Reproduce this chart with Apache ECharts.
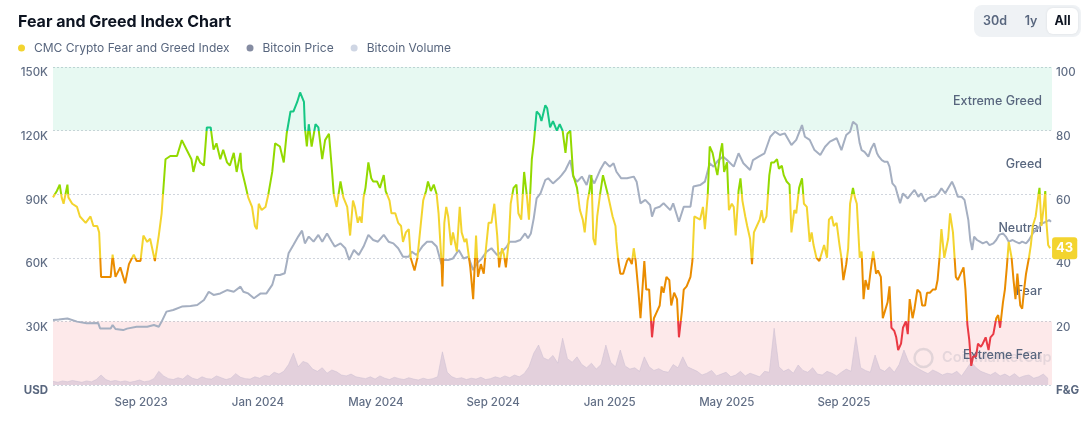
<!DOCTYPE html>
<html><head><meta charset="utf-8">
<script src="https://cdn.jsdelivr.net/npm/echarts@6/dist/echarts.min.js"></script>
<style>html,body{margin:0;padding:0;background:#fff}#c{width:1092px;height:426px}</style>
</head><body><div id="c"></div>
<script>
// ---- axis domain: one category per day starting at startDate ----
const startDate = '2023-06-29';
const dayCount = 1040;
const monthNames = ['Jan','Feb','Mar','Apr','May','Jun','Jul','Aug','Sep','Oct','Nov','Dec'];
const xTickDates = ['2023-09-01','2024-01-01','2024-05-01','2024-09-01','2025-01-01','2025-05-01','2025-09-01'];

// ---- tick labels ----
const usdTickLabels = ['USD','30K','60K','90K','120K','150K'];
const fgTickLabels = ['F&G','20','40','60','80','100'];
const zoneBounds = [0,20,40,60,80,100];
const zoneNames = ['Extreme Fear','Fear','Neutral','Greed','Extreme Greed'];
const zoneColors = ['#ea3943','#ea8c00','#f3d42f','#93d900','#16c784'];

// ---- CMC Fear & Greed index: [day since startDate, value] ----
const fearGreed = [[0,59],[4,61],[7,63],[9,59],[11,57],[15,63],[16,59],[20,57],[25,56],[28,53],[34,51],[39,53],[42,50],[46,50],[48,48],[50,34],[56,34],[60,34],[62,41],[65,34],[70,37],[75,32],[79,38],[84,41],[87,39],[91,39],[94,47],[98,45],[101,46],[106,39],[110,47],[113,54],[117,71],[122,72],[129,72],[134,77],[139,74],[144,71],[146,67],[150,72],[153,70],[157,69],[160,81],[164,81],[167,74],[170,76],[174,71],[177,74],[181,70],[184,69],[188,73],[191,67],[195,73],[196,68],[200,63],[203,59],[207,56],[210,50],[212,49],[214,57],[217,55],[221,56],[224,60],[228,67],[231,76],[236,75],[240,70],[243,79],[247,86],[250,86],[254,89],[257,92],[261,89],[262,81],[264,75],[266,82],[269,75],[273,82],[276,81],[280,71],[283,77],[287,79],[290,68],[292,60],[295,56],
[299,64],[302,59],[306,56],[309,47],[312,58],[314,56],[317,51],[319,53],[321,51],[323,59],[325,62],[328,70],[331,65],[333,64],[337,64],[340,62],[344,66],[346,61],[350,58],[352,54],[356,54],[359,51],[362,50],[364,45],[367,48],[370,49],[372,40],[376,36],[379,40],[382,49],[385,58],[388,61],[390,64],[393,61],[396,63],[399,60],[401,54],[404,39],[405,31],[407,51],[409,56],[411,53],[414,44],[416,48],[420,42],[423,56],[425,48],[428,45],[430,46],[434,37],[437,27],[440,47],[442,34],[445,38],[448,35],[450,42],[453,51],[456,51],[459,57],[462,47],[464,37],[467,43],[469,41],[471,37],[474,45],[476,57],[479,62],[482,63],[484,54],[487,52],[490,67],[493,59],[495,52],[498,71],[500,76],[503,86],[506,85],[508,83],[512,88],[514,87],[517,81],[520,83],[524,80],[527,82],[530,80],[533,73],[535,79],[538,80],[541,66],[545,62],[548,55],[551,52],[553,48],[556,58],[558,61],
[560,66],[562,46],[564,44],[566,53],[569,60],[572,66],[574,66],[577,60],[579,60],[582,53],[585,50],[586,45],[588,39],[590,35],[593,35],[597,39],[599,40],[602,38],[604,43],[606,39],[609,29],[611,21],[613,21],[615,39],[617,30],[620,30],[623,15],[625,21],[628,23],[631,25],[633,31],[635,29],[638,34],[641,33],[643,25],[646,29],[649,27],[651,15],[654,23],[656,30],[659,31],[663,34],[665,39],[667,53],[669,53],[673,52],[676,56],[678,49],[681,60],[683,75],[686,73],[688,70],[691,66],[694,73],[696,76],[698,67],[701,70],[703,55],[706,57],[708,56],[710,47],[713,61],[715,65],[717,58],[720,53],[722,50],[725,46],[727,38],[729,48],[732,50],[735,52],[737,55],[739,51],[742,53],[745,66],[747,70],[750,70],[753,71],[755,68],[758,69],[760,66],[763,64],[766,63],[768,48],[771,55],[773,54],[776,62],[779,65],[781,57],[784,56],[787,45],[789,48],[791,44],[794,40],[797,39],[799,41],[802,44],[805,40],[807,52],[810,53],[812,50],[815,51],[818,44],[820,40],[822,33],[825,38],[827,43],
[829,57],[832,62],[834,59],[836,57],[839,40],[841,42],[843,27],[845,33],[848,30],[850,35],[853,42],[856,35],[858,36],[861,34],[863,21],[865,23],[868,26],[870,31],[872,18],[875,17],[877,15],[879,11],[882,13],[884,18],[887,20],[889,16],[891,27],[894,21],[896,24],[899,30],[902,29],[904,25],[907,25],[909,29],[912,29],[915,30],[918,30],[920,33],[922,40],[924,49],[927,40],[929,40],[931,46],[933,54],[936,48],[939,34],[941,33],[944,35],[947,37],[949,30],[951,19],[953,14],[955,6],[957,9],[960,9],[962,13],[965,12],[967,13],[970,15],[973,11],[975,15],[978,16],[981,21],[983,22],[985,18],[988,26],[990,30],[992,37],[994,45],[997,40],[999,33],[1001,27],[1003,35],[1006,25],[1008,24],[1010,30],[1012,35],[1015,40],[1017,44],[1019,50],[1022,53],[1025,60],[1026,62],[1028,50],[1030,55],[1032,61],[1033,52],[1035,44],[1037,43]];

// ---- Bitcoin price, thousand USD: [day since startDate, price] ----
const btcPrice = [[0,30.7],[6,30.9],[15,31.4],[25,29.9],[35,29.1],[47,29.2],[49,26.7],[60,26.7],[62,28.3],[65,26.4],[73,25.9],[77,26.6],[87,27.5],[98,27.5],[105,28.3],[110,27.5],[113,29.9],[118,34.6],[125,35.4],[134,37],[143,37.3],[150,37.7],[157,40.1],[162,44],[167,42.5],[174,43.2],[181,44.8],[188,44],[195,46.4],[198,44],[203,43.2],[209,40.9],[216,43.2],[222,43.2],[228,47.2],[231,51.9],[236,51.9],[241,52.7],[245,62.1],[250,66],[255,70],[259,72.8],[262,66.8],[266,70],[271,67.6],[276,70.8],[280,67.6],[285,71.5],[290,67.6],[293,65.3],[299,66.8],[304,64.5],[308,59],[313,63.7],[318,61.3],
[323,65.3],[328,70.8],[333,68.4],[338,67.6],[344,70.8],[349,67.6],[354,66.8],[359,64.5],[364,60.5],[370,60.5],[373,62.9],[378,61.3],[384,65.3],[389,67.6],[394,67.6],[399,65.3],[404,57],[406,59],[411,59],[416,59.7],[422,63.7],[427,59.7],[432,60.5],[437,54.2],[441,57.4],[446,59.7],[451,62.9],[456,64.5],[462,61.3],[467,62.9],[472,65.3],[475,67.6],[481,67.6],[486,68.4],[491,71.5],[494,69.2],[497,71.5],[500,78.6],[503,88],[507,90.4],[512,96.7],[515,97.5],[520,95.1],[526,97.5],[529,99],[533,101.4],[538,106.1],[541,98.3],[545,95.9],[550,98.3],[555,94.3],[558,99],
[563,95.1],[569,101.4],[574,105.3],[579,103],[583,104.6],[586,100.6],[591,97.5],[597,97.5],[604,98.3],[607,95.9],[611,85.7],[616,87.3],[621,84.9],[623,79.4],[626,83.3],[631,84.1],[635,85.7],[642,82.5],[645,85.7],[651,77],[656,84.1],[663,84.1],[666,93.6],[673,94.3],[678,95.9],[683,104.6],[687,103],[692,106.1],[697,107.7],[701,106.1],[708,103],[713,109.3],[718,104.6],[725,101.4],[728,106.1],[734,107.7],[740,109.3],[746,117.1],[751,119.5],[756,117.9],[761,118.7],[768,113.2],[773,115.6],[779,122.6],[782,117.1],[787,115.6],[792,110.8],[798,108.5],[803,112.4],[808,114.8],[815,116.4],[820,110.8],[825,117.9],[829,119.5],
[832,124.2],[836,122.6],[839,114],[841,110.8],[844,110],[848,107.7],[851,111.6],[854,114],[857,109.3],[859,107.7],[862,106.1],[865,105.3],[868,105.3],[870,103],[873,95.1],[876,93.6],[878,90.4],[881,85.7],[884,90.4],[886,91.2],[889,88],[893,90.4],[896,92],[900,88.8],[903,90.4],[907,86.5],[910,88],[914,88.8],[917,88.8],[921,90.4],[924,92.8],[928,90.4],[931,92.8],[935,95.9],[938,92.8],[941,88.8],[945,88.8],[948,87.3],[952,77.8],[954,68.4],[956,63.7],[958,70],[961,68.4],[964,67.6],[967,66.8],[971,67.6],[974,66],[978,66.8],[981,68.4],[984,70.8],[988,71.5],[991,70],[994,67.6],[998,68.4],[1001,67.6],[1005,66.8],[1008,67.6],[1012,66.8],[1015,68.4],[1019,71.5],[1022,73.1],[1026,74.7],[1029,76.3],[1033,77],[1036,77.8],[1038,77]];

// ---- Bitcoin volume, billion USD, one value every volStepDays from day 0 ----
const volStepDays = 5;
const btcVolume = [8,6,9,7,10,8,6,9,7,12,
22,12,8,10,7,9,6,8,11,7,9,14,30,
20,14,12,16,13,22,15,12,18,14,13,20,16,12,15,25,17,14,13,18,15,21,19,28,24,30,45,
70,40,52,48,35,30,38,26,33,29,22,20,24,18,
16,14,18,13,20,15,12,17,14,12,16,13,11,15,12,14,18,
73,28,18,14,16,12,15,13,17,12,14,18,15,20,16,22,18,25,40,
70,88,60,55,65,48,103,58,50,62,45,38,48,35,
45,88,50,40,77,42,35,38,30,62,40,32,36,30,28,45,38,62,40,
35,30,22,26,32,20,24,28,18,22,30,20,26,22,18,30,28,
125,40,30,35,26,44,32,28,38,24,22,30,26,20,28,35,
30,106,38,32,28,66,35,30,40,28,45,77,50,42,36,30,25,33,28,22,26,24,30,20,
35,51,38,30,26,22,28,20,24,18,25,16,20,22,15,18,24,14];

// ---- build axis categories and series tables ----
const categories = [];
const t0 = Date.parse(startDate + 'T00:00:00Z');
for (let i = 0; i < dayCount; i++) categories.push(new Date(t0 + i * 86400000).toISOString().slice(0, 10));
const volumeData = btcVolume.map((v, i) => [i * volStepDays, v]);

const FONT = 'Inter, "Noto Sans", sans-serif';
const GRAY = '#616e85';

const fillAreas = [
  [{ yAxis: zoneBounds[4], itemStyle: { color: 'rgba(22,199,132,0.10)' } }, { yAxis: zoneBounds[5] }],
  [{ yAxis: zoneBounds[0], itemStyle: { color: 'rgba(234,57,67,0.11)' } }, { yAxis: zoneBounds[1] }]
];
const labelAreas = zoneNames.map((n, i) => [{ name: n, yAxis: zoneBounds[i] }, { yAxis: zoneBounds[i + 1] }]);

const chart = echarts.init(document.getElementById('c'), null, { renderer: 'canvas' });
chart.setOption({
  animation: false,
  textStyle: { fontFamily: FONT },
  title: {
    text: 'Fear and Greed Index Chart', left: 13, top: 9,
    textStyle: { fontFamily: FONT, fontSize: 16, fontWeight: 700, color: '#0d1421' }
  },
  legend: {
    left: 18, top: 42, padding: 0, icon: 'circle', itemWidth: 7, itemHeight: 7, itemGap: 17,
    selectedMode: false,
    textStyle: { fontFamily: FONT, fontSize: 12, color: '#58667e', padding: [0, 0, 0, 4] },
    data: [
      { name: 'CMC Crypto Fear and Greed Index', itemStyle: { color: '#f3d42f' } },
      { name: 'Bitcoin Price', itemStyle: { color: '#858ca2' } },
      { name: 'Bitcoin Volume', itemStyle: { color: '#cfd6e4' } }
    ]
  },
  grid: { left: 53, right: 40, top: 67, bottom: 41, containLabel: false, outerBoundsMode: 'none' },
  xAxis: {
    type: 'category', data: categories, boundaryGap: false,
    axisLine: { show: false }, axisTick: { show: false }, splitLine: { show: false },
    axisLabel: {
      align: 'left', margin: 12, color: GRAY, fontSize: 11.5, fontWeight: 500, fontFamily: FONT,
      interval: (idx, val) => xTickDates.includes(val),
      formatter: (val) => { const d = new Date(val + 'T00:00:00Z'); return monthNames[d.getUTCMonth()] + ' ' + d.getUTCFullYear(); }
    }
  },
  yAxis: [
    {
      type: 'value', min: 0, max: 150, interval: 30, position: 'left',
      axisLine: { show: false }, axisTick: { show: false },
      splitLine: { lineStyle: { type: [2, 2], color: '#d0d5dd', width: 1 } },
      axisLabel: {
        margin: 5, verticalAlign: 'top', color: GRAY, fontSize: 11.5, fontWeight: 500, fontFamily: FONT,
        formatter: (v) => { const i = Math.round(v / 30); return i === 0 ? '{b|' + usdTickLabels[0] + '}' : usdTickLabels[i]; },
        rich: { b: { fontWeight: 700, color: '#58667e', fontSize: 11.5, fontFamily: FONT } }
      }
    },
    {
      type: 'value', min: 0, max: 100, interval: 20, position: 'right',
      axisLine: { show: false }, axisTick: { show: false }, splitLine: { show: false },
      axisLabel: {
        margin: 4, verticalAlign: 'top', color: GRAY, fontSize: 11.5, fontWeight: 500, fontFamily: FONT,
        formatter: (v) => { const i = Math.round(v / 20); return i === 0 ? '{b|' + fgTickLabels[0] + '}' : fgTickLabels[i]; },
        rich: { b: { fontWeight: 700, color: '#58667e', fontSize: 11.5, fontFamily: FONT } }
      }
    },
    { type: 'value', min: 0, max: 700, show: false }
  ],
  visualMap: {
    type: 'piecewise', show: false, seriesIndex: 3, dimension: 1,
    pieces: [
      { gte: zoneBounds[0], lt: zoneBounds[1], color: zoneColors[0] },
      { gte: zoneBounds[1], lt: zoneBounds[2], color: zoneColors[1] },
      { gte: zoneBounds[2], lt: zoneBounds[3], color: zoneColors[2] },
      { gte: zoneBounds[3], lt: zoneBounds[4], color: zoneColors[3] },
      { gte: zoneBounds[4], lte: zoneBounds[5], color: zoneColors[4] }
    ]
  },
  series: [
    {
      type: 'line', yAxisIndex: 1, data: [], z: 0, silent: true,
      markArea: { silent: true, data: fillAreas, label: { show: false } }
    },
    {
      name: 'Bitcoin Volume', type: 'line', yAxisIndex: 2, data: volumeData, z: 1,
      showSymbol: false, symbol: 'none',
      lineStyle: { width: 0.5, color: '#c9bdd0' },
      itemStyle: { color: '#cfd6e4' },
      areaStyle: { color: 'rgba(150,135,180,0.36)', origin: 'start' }
    },
    {
      name: 'Bitcoin Price', type: 'line', yAxisIndex: 0, data: btcPrice, z: 2,
      showSymbol: false, symbol: 'none',
      lineStyle: { width: 2, color: '#a5afc1' }, itemStyle: { color: '#858ca2' }
    },
    {
      name: 'CMC Crypto Fear and Greed Index', type: 'line', yAxisIndex: 1, data: fearGreed, z: 3,
      showSymbol: false, symbol: 'none',
      lineStyle: { width: 2 },
      endLabel: {
        show: true, distance: 2, formatter: (p) => String(p.value[1]),
        backgroundColor: '#f3d42f', color: '#fff', fontWeight: 700, fontSize: 13, fontFamily: FONT,
        padding: [5, 4, 4, 4], borderRadius: 3
      }
    },
    {
      type: 'line', yAxisIndex: 1, data: [], z: 10, silent: true,
      markArea: {
        silent: true, itemStyle: { color: 'rgba(0,0,0,0)' },
        label: { show: true, position: 'insideRight', distance: 10, offset: [0, 2], color: '#58667e', fontSize: 12.5, fontWeight: 500, fontFamily: FONT },
        data: labelAreas
      }
    }
  ],
  graphic: [
    { type: 'rect', left: 974, top: 5, shape: { width: 107, height: 32, r: 8 }, style: { fill: '#eff2f5' }, z: 10 },
    { type: 'rect', left: 1047, top: 8, shape: { width: 31, height: 26, r: 6 }, style: { fill: '#ffffff', shadowBlur: 3, shadowColor: 'rgba(0,0,0,0.08)' }, z: 11 },
    { type: 'text', x: 995, y: 21, z: 12, style: { text: '30d', fill: '#58667e', font: '600 12.5px ' + FONT, textAlign: 'center', textVerticalAlign: 'middle' } },
    { type: 'text', x: 1031, y: 21, z: 12, style: { text: '1y', fill: '#58667e', font: '600 12.5px ' + FONT, textAlign: 'center', textVerticalAlign: 'middle' } },
    { type: 'text', x: 1062.5, y: 21, z: 12, style: { text: 'All', fill: '#0d1421', font: '700 12.5px ' + FONT, textAlign: 'center', textVerticalAlign: 'middle' } },
    { type: 'circle', shape: { cx: 923.5, cy: 358, r: 9 }, style: { fill: 'none', stroke: 'rgba(88,102,126,0.16)', lineWidth: 2.5 }, z: 5 },
    { type: 'text', x: 942, y: 358, z: 5, style: { text: 'CoinMarketCap', fill: 'rgba(88,102,126,0.14)', font: '600 14.5px ' + FONT, textVerticalAlign: 'middle' } }
  ]
});
</script></body></html>
